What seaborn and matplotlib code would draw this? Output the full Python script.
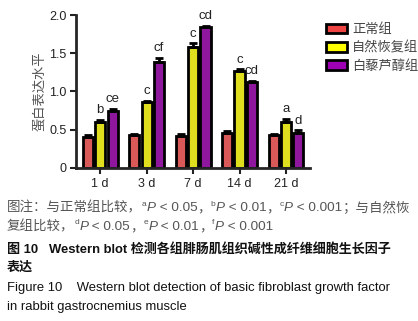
import pandas as pd
import matplotlib
matplotlib.use("Agg")
import matplotlib.pyplot as plt
import matplotlib.patches as mpatches
from matplotlib.transforms import offset_copy
import seaborn as sns

# data
days = ["1 d", "3 d", "7 d", "14 d", "21 d"]
groups = ["正常组", "自然恢复组", "白藜芦醇组"]
normal = [0.41, 0.43, 0.42, 0.46, 0.43]
natural = [0.60, 0.86, 1.58, 1.27, 0.60]
resv = [0.75, 1.39, 1.84, 1.12, 0.46]
normal_err = [0.02, 0.02, 0.02, 0.02, 0.02]
natural_err = [0.03, 0.02, 0.05, 0.02, 0.04]
resv_err = [0.02, 0.05, 0.02, 0.02, 0.03]
natural_marks = ["b", "c", "c", "c", "a"]
resv_marks = ["ce", "cf", "cd", "cd", "d"]
colors = ["#EE4444", "#FFFF00", "#A000B4"]

sns.set_style("ticks")
plt.rcParams["font.family"] = ["Liberation Sans", "Noto Sans CJK SC", "DejaVu Sans"]

rows = []
for g, vals in zip(groups, [normal, natural, resv]):
    for d, v in zip(days, vals):
        rows.append({"day": d, "group": g, "value": v})
df = pd.DataFrame(rows)

fig = plt.figure(figsize=(4.18, 3.21), dpi=100)
ax = fig.add_axes([0.182, 0.477, 0.56, 0.476])

sns.barplot(data=df, x="day", y="value", hue="group", order=days, hue_order=groups,
            palette=dict(zip(groups, colors)), width=0.8, gap=0.18, errorbar=None,
            edgecolor="black", linewidth=2, legend=False, ax=ax)

errs = [normal_err, natural_err, resv_err]
marks = [None, natural_marks, resv_marks]
for cont, err, mk in zip(ax.containers, errs, marks):
    xs = [p.get_x() + p.get_width() / 2 for p in cont]
    hs = [p.get_height() for p in cont]
    ax.errorbar(xs, hs, yerr=[[0] * len(err), err], fmt="none", ecolor="black",
                elinewidth=2, capsize=3, capthick=2, zorder=5)
    if mk:
        for x, h, e, m in zip(xs, hs, err, mk):
            ax.text(x, h + e + 0.05, m, ha="center", va="bottom", fontsize=9.5, color="#222222")

ax.set_xlim(-0.52, 4.52)
ax.set_ylim(0, 2.0)
ax.set_yticks([0, 0.5, 1.0, 1.5, 2.0])
ax.set_yticklabels(["0", "0.5", "1.0", "1.5", "2.0"])
ax.set_xlabel("")
ax.set_ylabel("蛋白表达水平", family=["Noto Sans CJK SC"], fontsize=9.5, color="#555555", labelpad=2)
sns.despine(ax=ax)
for s in ["left", "bottom"]:
    ax.spines[s].set_linewidth(2)
ax.tick_params(axis="both", width=1.5, length=4, labelsize=9, colors="#222222", pad=3)

handles = [mpatches.Patch(facecolor=c, edgecolor="black", linewidth=2) for c in colors]
leg = fig.legend(handles, groups, loc="upper left", bbox_to_anchor=(0.752, 0.965), frameon=False,
                 prop={"family": "Noto Sans CJK SC", "size": 9.5}, handlelength=1.6,
                 handleheight=0.75, handletextpad=0.35, labelspacing=0.4)
for t in leg.get_texts():
    t.set_color("#444444")

# caption lines built from pieces so the P can be italic and the letters superscript
renderer = fig.canvas.get_renderer()
cjk = ["Liberation Sans", "Noto Sans CJK SC"]


def draw_line(y, parts, size=9.7, color="#555555"):
    x0 = 7
    for txt, kind in parts:
        kw = dict(family=cjk, fontsize=size, color=color)
        dy = 0
        if kind == "it":
            kw["style"] = "italic"
        elif kind == "sup":
            kw["fontsize"] = size * 0.62
            dy = 4
        t = fig.text(0, 0, txt, va="center", **kw,
                     transform=offset_copy(fig.transFigure, fig=fig, x=x0, y=321 - y + dy, units="dots"))
        x0 += t.get_window_extent(renderer).width


def pvals(pairs):
    out = []
    for i, (letter, val) in enumerate(pairs):
        out += [(letter, "sup"), ("P", "it"), (" < " + val, "")]
        if i < len(pairs) - 1:
            out.append(("，", ""))
    return out


line1 = [("图注：与正常组比较，", "")] + pvals([("a", "0.05"), ("b", "0.01"), ("c", "0.001")]) + [("；与自然恢", "")]
line2 = [("复组比较，", "")] + pvals([("d", "0.05"), ("e", "0.01"), ("f", "0.001")])
draw_line(208, line1)
draw_line(227, line2)

fig.text(7 / 418, 1 - 249 / 321, "图 10   Western blot 检测各组腓肠肌组织碱性成纤维细胞生长因子",
         family=cjk, fontsize=9.4, weight="bold", color="#111111", va="center")
fig.text(7 / 418, 1 - 268 / 321, "表达", family=cjk, fontsize=9.4, weight="bold",
         color="#111111", va="center")
fig.text(7 / 418, 1 - 288 / 321, "Figure 10    Western blot detection of basic fibroblast growth factor",
         fontsize=9.4, color="#111111", va="center")
fig.text(7 / 418, 1 - 307 / 321, "in rabbit gastrocnemius muscle", fontsize=9.4, color="#111111", va="center")

fig.savefig("out.png", dpi=100)
